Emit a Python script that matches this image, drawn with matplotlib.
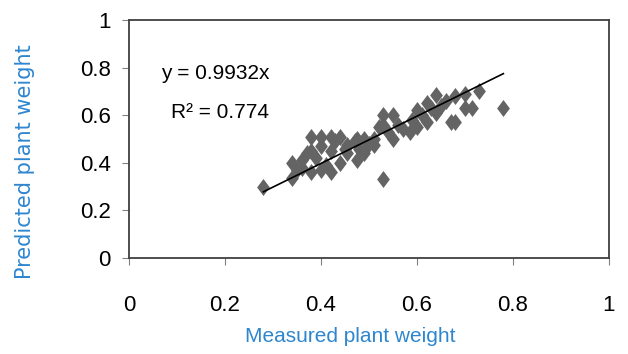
import matplotlib.pyplot as plt
import numpy as np
from matplotlib.path import Path

# measured vs predicted plant weight
measured = [0.28, 0.34, 0.34, 0.35, 0.36, 0.36, 0.37, 0.38, 0.38, 0.38, 0.39,
            0.40, 0.40, 0.40, 0.41, 0.42, 0.42, 0.42, 0.43, 0.44, 0.44, 0.45,
            0.455, 0.455, 0.47, 0.475, 0.475, 0.48, 0.49, 0.49, 0.50, 0.51, 0.51,
            0.52, 0.53, 0.53, 0.53, 0.54, 0.55, 0.55, 0.56, 0.57, 0.585, 0.59,
            0.60, 0.60, 0.61, 0.62, 0.62, 0.63, 0.64, 0.64, 0.65, 0.66, 0.67,
            0.68, 0.68, 0.70, 0.70, 0.715, 0.73, 0.78]
predicted = [0.30, 0.335, 0.40, 0.37, 0.41, 0.38, 0.44, 0.51, 0.45, 0.36, 0.42,
             0.51, 0.47, 0.37, 0.39, 0.51, 0.45, 0.36, 0.49, 0.51, 0.40, 0.46,
             0.475, 0.44, 0.49, 0.50, 0.41, 0.46, 0.50, 0.44, 0.48, 0.50, 0.475,
             0.55, 0.60, 0.56, 0.33, 0.53, 0.60, 0.50, 0.56, 0.54, 0.53, 0.58,
             0.62, 0.55, 0.60, 0.65, 0.57, 0.63, 0.685, 0.61, 0.64, 0.66, 0.57,
             0.68, 0.57, 0.69, 0.63, 0.63, 0.70, 0.63]

slope = 0.9932
r2 = 0.774

fig = plt.figure(figsize=(6.28, 3.54), dpi=100)
ax = fig.add_axes([0.2054, 0.2712, 0.7643, 0.6723])

narrow = ['Liberation Sans', 'DejaVu Sans']
blue = '#2E86CF'

# slightly tall diamond
diamond = Path([(0, 1.2), (0.9, 0), (0, -1.2), (-0.9, 0), (0, 1.2)],
               [Path.MOVETO, Path.LINETO, Path.LINETO, Path.LINETO, Path.CLOSEPOLY])
ax.scatter(measured, predicted, marker=diamond, s=150, color='#646464',
           linewidths=0, zorder=2)

xs = np.array([min(measured), max(measured)])
ax.plot(xs, slope * xs, color='black', lw=1.2, zorder=3)

ax.set_xlim(0, 1)
ax.set_ylim(0, 1)
ticks = [0, 0.2, 0.4, 0.6, 0.8, 1]
labels = ['0', '0.2', '0.4', '0.6', '0.8', '1']
ax.set_xticks(ticks)
ax.set_xticklabels(labels, family=narrow, fontsize=16)
ax.set_yticks(ticks)
ax.set_yticklabels(labels, family=narrow, fontsize=16)
ax.tick_params(direction='out', length=5, color='#808080', pad=8)
ax.tick_params(axis='x', pad=22)

for side in ['left', 'bottom', 'top', 'right']:
    ax.spines[side].set_color('#404040')
    ax.spines[side].set_linewidth(1.3)

ax.text(0.18, 0.777, 'y = %.4fx' % slope, family=narrow, fontsize=15,
        ha='center', va='center')
ax.text(0.19, 0.613, 'R² = %.3f' % r2, family=narrow, fontsize=15,
        ha='center', va='center')

fig.text(350 / 628, 1 - 337 / 354, 'Measured plant weight', family=narrow,
         fontsize=15, color=blue, ha='center', va='center')
fig.text(25 / 628, 1 - 162 / 354, 'Predicted plant weight', fontsize=15,
         color=blue, rotation=90, ha='center', va='center')

fig.savefig('out.png', dpi=100)
